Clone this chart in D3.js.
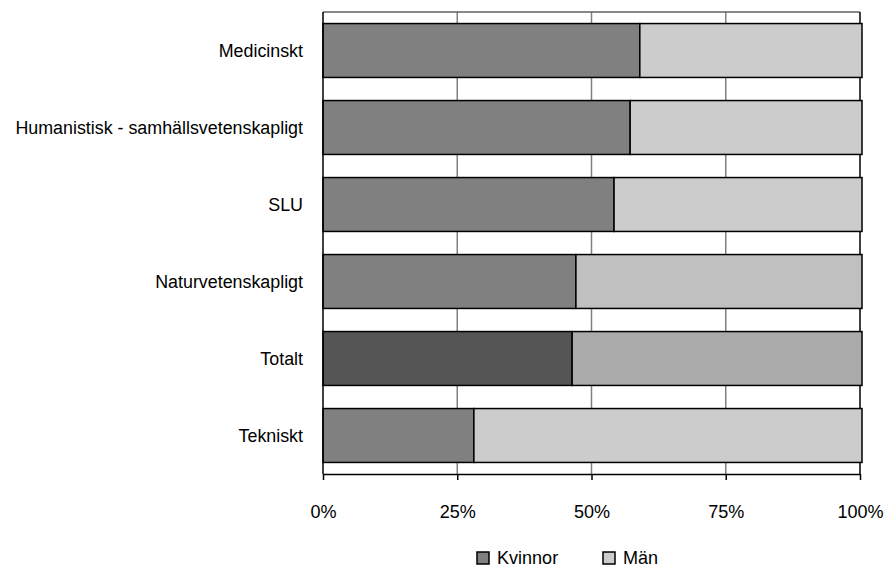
<!DOCTYPE html>
<html><head><meta charset="utf-8">
<script src="https://cdn.jsdelivr.net/npm/d3@7"></script>
<style>
body{margin:0;background:#fff;}
text{font-family:"Liberation Sans",Arial,sans-serif;fill:#000;}
</style></head>
<body><svg id="c" width="886" height="569"></svg>
<script>
const categories = ["Medicinskt","Humanistisk - samhällsvetenskapligt","SLU ","Naturvetenskapligt","Totalt ","Tekniskt"];
const kvinnor = [59.0, 57.2, 54.2, 47.1, 46.4, 28.1];
const man = kvinnor.map(v => 100 - v);
const kvinnorColors = ["#808080","#808080","#808080","#808080","#555555","#808080"];
const manColors = ["#cccccc","#cccccc","#cccccc","#c0c0c0","#aaaaaa","#cccccc"];
const xTicks = [0, 25, 50, 75, 100];
const tickLabels = ["0%","25%","50%","75%","100%"];
const seriesNames = ["Kvinnor","Män"];
const legendColors = ["#808080","#cccccc"];

const svg = d3.select("#c");
const m = {l:323, r:860, t:12, b:474};
const x = d3.scaleLinear().domain([0,100]).range([m.l, m.r]);
const y = d3.scaleBand().domain(categories).range([m.t, m.b]).paddingInner(0.3).paddingOuter(0.15);

svg.append("g").selectAll("line").data(xTicks.slice(1,4)).join("line")
  .attr("x1", d=>x(d)).attr("x2", d=>x(d)).attr("y1", m.t).attr("y2", m.b)
  .attr("stroke","#808080").attr("stroke-width",1.5);
svg.append("line").attr("x1",m.l).attr("x2",m.r).attr("y1",m.t).attr("y2",m.t).attr("stroke","#606060").attr("stroke-width",1.5);
svg.append("line").attr("x1",m.r).attr("x2",m.r).attr("y1",m.t).attr("y2",m.b).attr("stroke","#000").attr("stroke-width",1.5);

const g = svg.append("g");
g.selectAll("rect.k").data(categories).join("rect").attr("class","k")
  .attr("x", x(0)).attr("y", d=>y(d)).attr("height", y.bandwidth())
  .attr("width", (d,i)=>x(kvinnor[i])-x(0))
  .attr("fill",(d,i)=>kvinnorColors[i]).attr("stroke","#000").attr("stroke-width",1.5);
g.selectAll("rect.m").data(categories).join("rect").attr("class","m")
  .attr("x", (d,i)=>x(kvinnor[i])).attr("y", d=>y(d)).attr("height", y.bandwidth())
  .attr("width", (d,i)=>x(100)-x(kvinnor[i]) + 2)
  .attr("fill",(d,i)=>manColors[i]).attr("stroke","#000").attr("stroke-width",1.5);

const ya = svg.append("g").attr("transform",`translate(${m.l},0)`)
  .call(d3.axisLeft(y).tickSize(0).tickPadding(20));
ya.select(".domain").attr("stroke","#000").attr("stroke-width",1.5).attr("d",`M0,${m.t}V${m.b}`);
ya.selectAll("text").attr("font-size",19).attr("font-family",null)
  .attr("x",0).attr("transform","translate(-20,0) scale(0.94,1)");

const xa = svg.append("g").attr("transform",`translate(0,${m.b})`)
  .call(d3.axisBottom(x).tickValues(xTicks).tickFormat((d,i)=>tickLabels[i]).tickSize(6).tickSizeOuter(0).tickPadding(25));
xa.select(".domain").attr("stroke","#000").attr("stroke-width",1.5);
xa.selectAll(".tick line").attr("stroke","#000").attr("stroke-width",1.5);
xa.selectAll("text").attr("font-size",19).attr("font-family",null)
  .attr("transform","scale(0.95,1)");

const lg = svg.append("g");
const lx = [477, 603];
seriesNames.forEach((s,i)=>{
  lg.append("rect").attr("x",lx[i]).attr("y",552).attr("width",12).attr("height",12)
    .attr("fill",legendColors[i]).attr("stroke","#000").attr("stroke-width",1.5);
  lg.append("text").attr("x",lx[i]+20).attr("y",564).attr("font-size",19)
    .attr("transform",`translate(${(lx[i]+20)*0.05},0) scale(0.95,1)`).text(s);
});
</script></body></html>
